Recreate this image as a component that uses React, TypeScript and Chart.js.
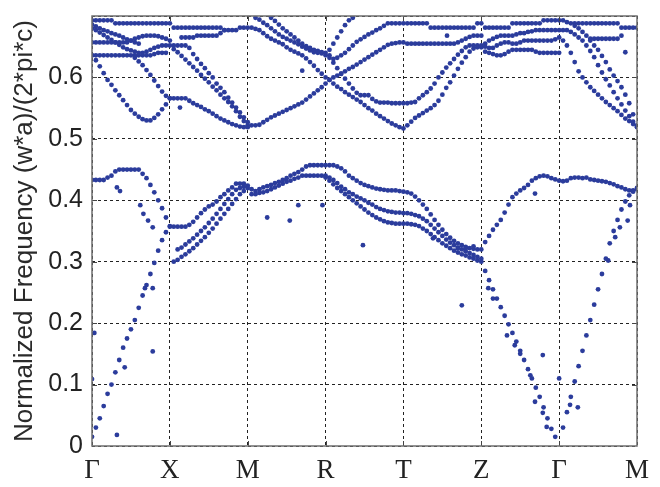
import React, { useEffect, useRef } from 'react';
import { Chart, registerables } from 'chart.js';

Chart.register(...registerables);

// ---------- axes ----------
const K_STEP = 0.05; // k-grid spacing along the path (20 points per segment)
const kPointLabels = ['Γ', 'X', 'M', 'R', 'T', 'Z', 'Γ', 'M'];
const freqTickLabels = ['0', '0.1', '0.2', '0.3', '0.4', '0.5', '0.6'];
const yTitle = 'Normalized Frequency (w*a)/(2*pi*c)';

// ---------- lower bands (start k, then frequencies on the k-grid) ----------
const acGX = [0.015, 0.03, 0.045, 0.065, 0.085, 0.10, 0.12, 0.14, 0.16, 0.175, 0.19, 0.205, 0.225, 0.245, 0.262, 0.28, 0.298, 0.318, 0.335, 0.348, 0.357];
const topLowGX = [0.433, 0.433, 0.433, 0.433, 0.437, 0.44, 0.447, 0.45, 0.45, 0.45, 0.45, 0.45, 0.45, 0.443, 0.436, 0.425, 0.413, 0.4, 0.387, 0.372, 0.358];
const topLowXM = [0.357, 0.357, 0.357, 0.357, 0.36, 0.365, 0.372, 0.379, 0.385, 0.39, 0.393, 0.398, 0.405, 0.41, 0.416, 0.421, 0.427, 0.427, 0.427, 0.424];
const lowXM1 = [0.30, 0.303, 0.308, 0.312, 0.317, 0.322, 0.328, 0.334, 0.34, 0.347, 0.354, 0.362, 0.37, 0.378, 0.386, 0.394, 0.402, 0.41, 0.415, 0.42];
const lowXM2 = [0.32, 0.323, 0.328, 0.333, 0.338, 0.344, 0.35, 0.356, 0.363, 0.37, 0.378, 0.386, 0.394, 0.402, 0.41, 0.417, 0.42, 0.422];
const topLowMR = [0.418, 0.415, 0.418, 0.421, 0.423, 0.425, 0.428, 0.43, 0.433, 0.436, 0.44, 0.443, 0.446, 0.45, 0.455, 0.457, 0.457, 0.457, 0.457, 0.457];
const lowMR = [0.41, 0.41, 0.412, 0.413, 0.415, 0.418, 0.421, 0.424, 0.427, 0.43, 0.432, 0.435, 0.437, 0.44, 0.44, 0.44, 0.44, 0.44, 0.44, 0.44];
const topLowRT = [0.457, 0.457, 0.455, 0.452, 0.447, 0.44, 0.436, 0.432, 0.428, 0.425, 0.423, 0.421, 0.419, 0.418, 0.417, 0.416, 0.416, 0.416, 0.415, 0.414];
const midLowRT = [0.437, 0.433, 0.428, 0.422, 0.418, 0.413, 0.41, 0.406, 0.403, 0.4, 0.396, 0.393, 0.389, 0.386, 0.384, 0.382, 0.381, 0.38, 0.38, 0.379];
const lowRT = [0.437, 0.432, 0.426, 0.42, 0.415, 0.41, 0.405, 0.4, 0.395, 0.39, 0.385, 0.38, 0.376, 0.372, 0.369, 0.366, 0.364, 0.363, 0.362, 0.362, 0.362];
const topLowTZ = [0.413, 0.411, 0.406, 0.4, 0.393, 0.386, 0.377, 0.368, 0.36, 0.352, 0.345, 0.339, 0.334, 0.33, 0.327, 0.324, 0.322, 0.321, 0.32, 0.32];
const midLowTZ = [0.379, 0.378, 0.376, 0.374, 0.37, 0.366, 0.36, 0.354, 0.348, 0.342, 0.336, 0.331, 0.327, 0.323, 0.32, 0.317, 0.314, 0.311, 0.308, 0.305];
const lowTZ = [0.362, 0.361, 0.36, 0.358, 0.354, 0.35, 0.345, 0.34, 0.335, 0.33, 0.326, 0.322, 0.318, 0.315, 0.312, 0.31, 0.307, 0.305, 0.302, 0.30];
const upZG = [0.332, 0.342, 0.352, 0.36, 0.368, 0.38, 0.393, 0.405, 0.411, 0.416, 0.42, 0.425, 0.432, 0.436, 0.439, 0.44, 0.439, 0.436, 0.434, 0.432];
const acZG = [0.285, 0.27, 0.255, 0.24, 0.226, 0.212, 0.198, 0.184, 0.17, 0.155, 0.14, 0.125, 0.11, 0.095, 0.08, 0.063, 0.045, 0.028, 0.015];
const acGM = [0.03, 0.055, 0.08, 0.105, 0.13, 0.155, 0.18, 0.205, 0.23, 0.255, 0.28, 0.305, 0.33, 0.35, 0.368, 0.385, 0.398, 0.408, 0.416, 0.42];
const topLowGM = [0.431, 0.432, 0.436, 0.437, 0.437, 0.436, 0.437, 0.434, 0.433, 0.432, 0.431, 0.43, 0.428, 0.426, 0.423, 0.421, 0.418, 0.416, 0.414, 0.418];

// scattered lower points [k, frequency]
const lowerScatter: [number, number][] = [
  [0, 0.109], [0.03, 0.184], [0.32, 0.018], [0.32, 0.421], [0.36, 0.415], [0.42, 0.128], [0.62, 0.392],
  [0.66, 0.378], [0.68, 0.257], [0.72, 0.367], [0.78, 0.356], [0.78, 0.257], [0.78, 0.154],
  [2.25, 0.372], [2.54, 0.367], [2.65, 0.392], [2.96, 0.392], [3.48, 0.327], [4.38, 0.338],
  [4.7, 0.322], [4.8, 0.322], [4.9, 0.325], [4.75, 0.229],
  [5.09, 0.257], [5.15, 0.24], [5.33, 0.18], [5.43, 0.164], [5.5, 0.15], [5.63, 0.115], [5.69, 0.072],
  [5.69, 0.411], [5.79, 0.054], [5.79, 0.148], [5.84, 0.031], [6.0, 0.11], [6.14, 0.067], [6.24, 0.063],
  [6.63, 0.302], [6.72, 0.34], [6.78, 0.356], [6.88, 0.367], [6.91, 0.392],
];

// ---------- upper bands ----------
const topGX = [0.693, 0.693, 0.693, 0.693, 0.693, 0.693, 0.688, 0.688, 0.688, 0.688, 0.688, 0.688, 0.688, 0.688, 0.688, 0.688, 0.688, 0.688, 0.688, 0.688, 0.688];
const flatGX = [0.636, 0.636, 0.636, 0.636, 0.636, 0.636, 0.636, 0.636, 0.636, 0.636, 0.636, 0.636, 0.636, 0.636, 0.636, 0.636, 0.638, 0.64, 0.64, 0.64];
const descGX = [0.68, 0.677, 0.673, 0.669, 0.665, 0.661, 0.657, 0.653, 0.649, 0.646, 0.644, 0.642, 0.64, 0.64, 0.642, 0.645, 0.648, 0.65, 0.652, 0.652, 0.652];
const riseGX = [0.657, 0.657, 0.657, 0.657, 0.657, 0.657, 0.657, 0.657, 0.657, 0.657, 0.66, 0.663, 0.665, 0.667, 0.668, 0.668, 0.668, 0.667, 0.665, 0.663, 0.66];
const waveGX = [0.686, 0.683, 0.68, 0.677, 0.675, 0.672, 0.67, 0.668, 0.665, 0.662, 0.66, 0.657, 0.655];
const aGX = [0.636, 0.628, 0.618, 0.607, 0.596, 0.588, 0.579, 0.571, 0.563, 0.555, 0.547, 0.541, 0.536, 0.532, 0.53, 0.53, 0.534, 0.54, 0.548, 0.556, 0.566];
const bGX = [0.632, 0.626, 0.62, 0.612, 0.604, 0.595, 0.586, 0.577, 0.57, 0.566];
const topXM = [0.681, 0.681, 0.681, 0.681, 0.681, 0.681, 0.681, 0.681, 0.681, 0.681, 0.681, 0.681, 0.681, 0.677, 0.677, 0.677, 0.677, 0.681, 0.681, 0.681];
const aXM = [0.566, 0.566, 0.566, 0.566, 0.562, 0.558, 0.555, 0.552, 0.548, 0.545, 0.541, 0.537, 0.533, 0.53, 0.527, 0.524, 0.522, 0.52, 0.519, 0.519];
const cXM = [0.646, 0.641, 0.635, 0.629, 0.623, 0.617, 0.611, 0.604, 0.598, 0.592, 0.585, 0.579, 0.572, 0.566, 0.56, 0.553, 0.545, 0.536, 0.529, 0.522];
const dXM = [0.652, 0.652, 0.652, 0.652, 0.648, 0.638, 0.63, 0.622, 0.615, 0.607, 0.60, 0.59, 0.583, 0.576, 0.567, 0.559, 0.551, 0.543, 0.535, 0.527];
const eXM = [0.665, 0.665, 0.665, 0.665, 0.668, 0.668, 0.668, 0.668, 0.668, 0.668, 0.672, 0.677];
const band1MT = [0.681, 0.679, 0.677, 0.672, 0.667, 0.663, 0.66, 0.657, 0.654, 0.649, 0.645, 0.642, 0.639, 0.636, 0.631, 0.625, 0.619, 0.612, 0.606, 0.60, 0.596, 0.59, 0.585, 0.581, 0.576, 0.572, 0.568, 0.564, 0.56, 0.555, 0.55, 0.546, 0.541, 0.537, 0.533, 0.529, 0.525, 0.522, 0.519, 0.517];
const band2MT = [0.522, 0.522, 0.523, 0.527, 0.531, 0.535, 0.538, 0.541, 0.544, 0.547, 0.55, 0.553, 0.556, 0.559, 0.564, 0.569, 0.574, 0.579, 0.584, 0.59, 0.596, 0.60, 0.603, 0.606, 0.61, 0.614, 0.617, 0.621, 0.625, 0.629, 0.633, 0.637, 0.641, 0.645, 0.649, 0.653, 0.655, 0.656, 0.657, 0.657];
const band3MT = [0.697, 0.694, 0.689, 0.685, 0.68, 0.675, 0.67, 0.666, 0.663, 0.66, 0.657, 0.654, 0.65, 0.647, 0.644, 0.641, 0.64, 0.639, 0.636, 0.632, 0.624, 0.615, 0.606, 0.598, 0.59, 0.582, 0.575, 0.571, 0.571, 0.571, 0.565, 0.561, 0.559, 0.559, 0.559, 0.558, 0.558, 0.558, 0.558];
const band4MT = [0.697, 0.692, 0.686, 0.68, 0.675, 0.67, 0.665, 0.66, 0.655, 0.651, 0.648, 0.645, 0.643, 0.641, 0.64, 0.636, 0.63, 0.632, 0.636, 0.64, 0.646, 0.652, 0.658, 0.662, 0.666, 0.67, 0.673, 0.677, 0.68, 0.684, 0.688, 0.688, 0.688, 0.688, 0.688];
const band5RT = [0.645, 0.655, 0.665, 0.675, 0.685, 0.693, 0.697];
const band1TZ = [0.522, 0.528, 0.534, 0.538, 0.542, 0.546, 0.55, 0.555, 0.562, 0.572, 0.583, 0.592, 0.603, 0.614, 0.624, 0.633, 0.642, 0.647, 0.649, 0.649];
const band3TZ = [0.558, 0.559, 0.56, 0.566, 0.571, 0.576, 0.582, 0.59, 0.60, 0.608, 0.616, 0.623, 0.63, 0.637, 0.643, 0.649, 0.652, 0.652, 0.652, 0.652];
const band2TZ = [0.655, 0.655, 0.655, 0.655, 0.655, 0.655, 0.655, 0.655, 0.655, 0.655, 0.655, 0.655, 0.655, 0.657, 0.66, 0.663, 0.666, 0.668, 0.668, 0.668];
const topTZ = [0.688, 0.688, 0.688, 0.688, 0.688, 0.688, 0.681, 0.681, 0.681, 0.681, 0.681, 0.681, 0.681, 0.681, 0.681, 0.681, 0.681, 0.681, 0.688, 0.688];
const topZG = [0.681, 0.681, 0.681, 0.681, 0.681, 0.681, 0.681, 0.688, 0.688, 0.688, 0.688, 0.688, 0.688, 0.688, 0.688, 0.693, 0.693, 0.693, 0.693, 0.693];
const zg2 = [0.655, 0.66, 0.663, 0.666, 0.668, 0.668, 0.668, 0.668, 0.67, 0.672, 0.672, 0.674, 0.675, 0.677, 0.677, 0.677, 0.677, 0.677, 0.677, 0.677];
const zg3 = [0.65, 0.648, 0.648, 0.652, 0.655, 0.657, 0.657, 0.655, 0.655, 0.657, 0.66, 0.66, 0.66, 0.66, 0.66, 0.66, 0.66, 0.66, 0.662, 0.665];
const zg4 = [0.642, 0.64, 0.638, 0.636, 0.636, 0.638, 0.642, 0.645, 0.645, 0.645, 0.645, 0.645, 0.645, 0.642, 0.64, 0.64, 0.64, 0.64, 0.64, 0.64];
const topGM = [0.693, 0.69, 0.688, 0.688, 0.688, 0.688, 0.688, 0.688, 0.688, 0.688, 0.688, 0.688, 0.688, 0.688, 0.688, 0.681, 0.681, 0.681, 0.681, 0.681];
const gm1 = [0.66, 0.652, 0.64, 0.625, 0.61, 0.60, 0.592, 0.584, 0.578, 0.572, 0.566, 0.56, 0.555, 0.55, 0.545, 0.539, 0.533, 0.529, 0.524, 0.519];
const gm2 = [0.677, 0.677, 0.674, 0.67, 0.665, 0.66, 0.652, 0.643, 0.633, 0.62, 0.608, 0.597, 0.587, 0.576, 0.566, 0.556, 0.546, 0.537, 0.528, 0.52];
const gm3 = [0.684, 0.68, 0.674, 0.668, 0.66, 0.652, 0.645, 0.635, 0.625, 0.613, 0.603, 0.594, 0.584, 0.572, 0.558, 0.54, 0.522];
const gm4 = [0.663, 0.663, 0.663, 0.663, 0.663, 0.663, 0.663, 0.663, 0.668];

const upperScatter: [number, number][] = [
  [1.13, 0.551], [2.7, 0.611], [4.56, 0.668], [6.85, 0.641],
];

// [starting k, frequencies]
const lowerTraces: [number, number[]][] = [
  [0, acGX], [0, topLowGX], [1.05, topLowXM], [1.05, lowXM1], [1.1, lowXM2],
  [2.05, topLowMR], [2.05, lowMR], [3.05, topLowRT], [3.05, midLowRT], [3.0, lowRT],
  [4.05, topLowTZ], [4.05, midLowTZ], [4.05, lowTZ], [5.05, upZG], [5.05, acZG],
  [6.05, acGM], [6.05, topLowGM],
];
const upperTraces: [number, number[]][] = [
  [0, topGX], [0, flatGX], [0, descGX], [0, riseGX], [0, waveGX], [0, aGX], [0.55, bGX],
  [1.05, topXM], [1.05, aXM], [1.05, cXM], [1.05, dXM], [1.15, eXM],
  [2.05, band1MT], [2.05, band2MT], [2.1, band3MT], [2.3, band4MT], [3.05, band5RT],
  [4.05, band1TZ], [4.05, band3TZ], [4.05, band2TZ], [4.05, topTZ],
  [5.05, topZG], [5.05, zg2], [5.05, zg3], [5.05, zg4],
  [6.05, topGM], [6.05, gm1], [6.05, gm2], [6.2, gm3], [6.4, gm4],
];

function toPoints(traces: [number, number[]][], scatter: [number, number][]) {
  const pts: { x: number; y: number }[] = [];
  traces.forEach(([k0, ys]) => {
    ys.forEach((y, i) => pts.push({ x: k0 + i * K_STEP, y }));
  });
  scatter.forEach(([x, y]) => pts.push({ x, y }));
  return pts;
}

const DOT = '#2b3c9c';

const framePlugin = {
  id: 'frame',
  afterDatasetsDraw(chart: any) {
    const { ctx, chartArea } = chart;
    const { left, right, top, bottom } = chartArea;
    const xs = chart.scales.x;
    const ys = chart.scales.y;
    ctx.save();
    ctx.setLineDash([]);
    ctx.strokeStyle = '#444';
    ctx.lineWidth = 1;
    for (let i = 1; i < kPointLabels.length - 1; i++) {
      const px = Math.round(xs.getPixelForValue(i)) + 0.5;
      ctx.beginPath();
      ctx.moveTo(px, bottom); ctx.lineTo(px, bottom - 5);
      ctx.moveTo(px, top); ctx.lineTo(px, top + 5);
      ctx.stroke();
    }
    for (let i = 1; i < freqTickLabels.length; i++) {
      const py = Math.round(ys.getPixelForValue(i / 10)) + 0.5;
      ctx.beginPath();
      ctx.moveTo(left, py); ctx.lineTo(left + 5, py);
      ctx.moveTo(right, py); ctx.lineTo(right - 5, py);
      ctx.stroke();
    }
    ctx.strokeStyle = '#6e6e6e';
    ctx.lineWidth = 1.5;
    ctx.strokeRect(left, top, right - left, bottom - top);
    ctx.restore();
  },
};

export default function App() {
  const ref = useRef<HTMLCanvasElement | null>(null);
  useEffect(() => {
    if (!ref.current) return;
    const chart = new Chart(ref.current, {
      type: 'scatter',
      data: {
        datasets: [
          { data: toPoints(lowerTraces, lowerScatter), backgroundColor: DOT, borderWidth: 0, pointRadius: 2.4 },
          { data: toPoints(upperTraces, upperScatter), backgroundColor: DOT, borderWidth: 0, pointRadius: 2.4 },
        ],
      },
      options: {
        responsive: false,
        animation: false,
        events: [],
        layout: { padding: { left: 0, right: 23, top: 16, bottom: 0 } },
        plugins: { legend: { display: false }, tooltip: { enabled: false } },
        scales: {
          x: {
            type: 'linear', min: 0, max: 7,
            afterFit: (s: any) => { s.height = 41; s.paddingLeft = 0; s.paddingRight = 0; },
            ticks: {
              stepSize: 1, autoSkip: false, maxRotation: 0, padding: 9, color: '#222',
              font: { family: 'Liberation Serif', size: 27 },
              callback: (v: any) => kPointLabels[Math.round(Number(v))] ?? '',
            },
            grid: { color: '#222', lineWidth: 1, drawTicks: false },
            border: { display: false, dash: [3, 3] },
          },
          y: {
            type: 'linear', min: 0, max: 0.7,
            afterFit: (s: any) => { s.width = 92; s.paddingTop = 0; s.paddingBottom = 0; },
            ticks: {
              stepSize: 0.1, padding: 9, color: '#222',
              font: { family: 'Liberation Sans', size: 25 },
              callback: (_v: any, i: number) => freqTickLabels[i] ?? '',
            },
            grid: { color: '#222', lineWidth: 1, drawTicks: false },
            border: { display: false, dash: [3, 3] },
            title: {
              display: true, text: yTitle, color: '#2a2a2a',
              font: { family: 'Liberation Sans', size: 26, lineHeight: 1 },
              padding: { top: 12, bottom: 0 },
            },
          },
        },
      },
      plugins: [framePlugin],
    });
    return () => chart.destroy();
  }, []);
  return (
    <div style={{ position: 'fixed', left: 0, top: 0, width: 660, height: 487, background: '#fff' }}>
      <canvas ref={ref} width={660} height={487} style={{ display: 'block' }} />
    </div>
  );
}
